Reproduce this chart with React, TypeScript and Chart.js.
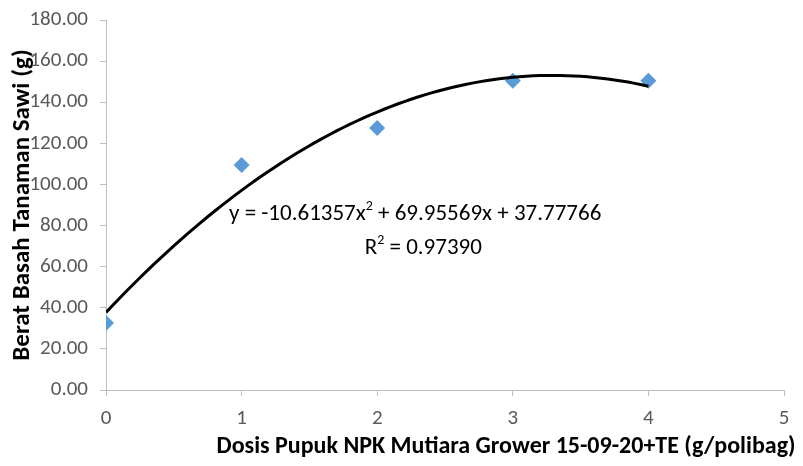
import React, { useEffect, useRef } from "react";
import { Chart, registerables } from "chart.js";

Chart.register(...registerables);

const doses = [0, 1, 2, 3, 4];
const weights = [32.6, 109.5, 127.5, 150.4, 150.4];
const trendCoefficients = [-10.61357, 69.95569, 37.77766];
const trendXs = Array.from({ length: 81 }, (_, i) => i * 0.05);
const equationText = ["y = -10.61357x", "2", " + 69.95569x + 37.77766"];
const r2Text = ["R", "2", " = 0.97390"];
const xTitle = "Dosis Pupuk NPK Mutiara Grower 15-09-20+TE (g/polibag)";
const yTitle = "Berat Basah Tanaman Sawi (g)";

const FONT = "Carlito, 'Liberation Sans Narrow', 'Noto Sans', sans-serif";

const labelPlugin = {
  id: "trendLabel",
  afterDraw(chart: any) {
    const ctx = chart.ctx;
    const xs = chart.scales.x;
    const ys = chart.scales.y;
    const drawParts = (parts: string[], cx: number, cy: number) => {
      ctx.save();
      ctx.fillStyle = "#000";
      ctx.textBaseline = "middle";
      const big = `23px ${FONT}`;
      const small = `14px ${FONT}`;
      ctx.font = big;
      const w0 = ctx.measureText(parts[0]).width;
      const w2 = ctx.measureText(parts[2]).width;
      ctx.font = small;
      const w1 = ctx.measureText(parts[1]).width;
      let x = cx - (w0 + w1 + w2) / 2;
      ctx.textAlign = "left";
      ctx.font = big;
      ctx.fillText(parts[0], x, cy);
      x += w0;
      ctx.font = small;
      ctx.fillText(parts[1], x, cy - 8);
      x += w1;
      ctx.font = big;
      ctx.fillText(parts[2], x, cy);
      ctx.restore();
    };
    drawParts(equationText, xs.getPixelForValue(2.28), ys.getPixelForValue(85.5));
    drawParts(r2Text, xs.getPixelForValue(2.34), ys.getPixelForValue(69));
    // x-axis title, placed as in the reference (slightly right of centre)
    ctx.save();
    ctx.font = `bold 24px ${FONT}`;
    ctx.fillStyle = "#000";
    ctx.textAlign = "center";
    ctx.textBaseline = "middle";
    ctx.fillText(xTitle, xs.getPixelForValue(2.95), 447);
    ctx.restore();
  },
};

export default function App() {
  const ref = useRef<HTMLCanvasElement>(null);
  useEffect(() => {
    document.body.style.margin = "0";
    const [a, b, c] = trendCoefficients;
    const trend = trendXs.map((x) => ({ x, y: a * x * x + b * x + c }));
    const chart = new Chart(ref.current!, {
      type: "scatter",
      data: {
        datasets: [
          {
            type: "line",
            data: trend,
            borderColor: "#000",
            borderWidth: 3,
            pointRadius: 0,
            showLine: true,
            fill: false,
          } as any,
          {
            data: doses.map((x, i) => ({ x, y: weights[i] })),
            pointStyle: "rectRot",
            pointRadius: 8,
            backgroundColor: "#5b9bd5",
            borderColor: "#5b9bd5",
            borderWidth: 0,
          },
        ],
      },
      options: {
        animation: false,
        responsive: false,
        layout: { padding: { top: 20, right: 19, bottom: 4, left: 0 } },
        plugins: { legend: { display: false }, tooltip: { enabled: false } },
        scales: {
          x: {
            type: "linear",
            min: 0,
            max: 5,
            ticks: { stepSize: 1, color: "#595959", font: { family: FONT, size: 21 }, padding: 10 },
            grid: { drawOnChartArea: false, tickLength: 6, color: "#bfbfbf" },
            border: { color: "#bfbfbf" },
            title: { display: false, text: xTitle },
            afterFit: (s: any) => { s.height = 72; },
          },
          y: {
            min: 0,
            max: 180,
            ticks: {
              stepSize: 20,
              color: "#595959",
              font: { family: FONT, size: 21 },
              padding: 12,
              callback: (v: any) => Number(v).toFixed(2),
            },
            grid: { drawOnChartArea: false, tickLength: 6, color: "#bfbfbf" },
            border: { color: "#bfbfbf" },
            title: {
              display: true,
              text: yTitle,
              color: "#000",
              font: { family: FONT, size: 25, weight: "bold" },
              padding: { top: 8, bottom: 0 },
            },
            afterFit: (s: any) => {
              s.width = 106;
              s.paddingTop = 0;
              s.paddingBottom = 0;
            },
          },
        },
      },
      plugins: [labelPlugin],
    });
    return () => chart.destroy();
  }, []);
  return (
    <div style={{ width: 803, height: 466 }}>
      <canvas ref={ref} width={803} height={466} />
    </div>
  );
}
